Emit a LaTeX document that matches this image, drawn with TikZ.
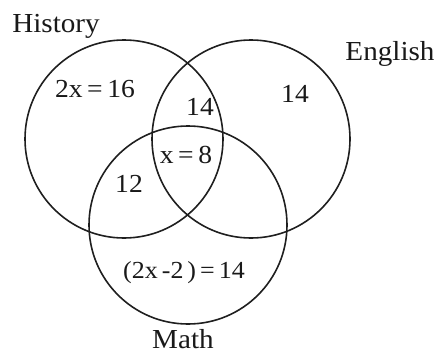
\documentclass[tikz,border=0pt]{standalone}
\usepackage{fontspec}
\setmainfont[FakeStretch=1.06]{Liberation Serif}
\newcommand\vgap{\hspace{4.5pt}}
\newcommand\tgap{\hspace{4pt}}
\tikzset{
  setcircle/.style={draw=black!88, line width=1.6pt, circle, minimum size=198pt, inner sep=0pt},
  lab/.style={anchor=base, inner sep=0pt, font=\fontsize{26}{30}\selectfont, text=black!90},
  title/.style={lab, font=\fontsize{27.5}{32}\selectfont},
}
\begin{document}
\begin{tikzpicture}[x=1pt, y=-1pt]
\useasboundingbox (0,0) rectangle (438,353);
\node[setcircle] (hist) at (124,139) {};
\node[setcircle] (eng) at (251,139) {};
\node[setcircle] (math) at (188,225) {};
\node[title] (thist) at (56,33) {History};
\node[title] (teng) at (390,60) {English};
\node[title] (tmath) at (183,348) {Math};
\node[lab] (honly) at (95,97) {2x\vgap=\vgap16};
\node[lab] (he) at (200,115) {14};
\node[lab] (eonly) at (295,102) {14};
\node[lab] (all) at (186,163) {x\vgap=\vgap8};
\node[lab] (hm) at (129,192) {12};
\node[lab, font=\fontsize{24.5}{30}\selectfont] (monly) at (184,278) {(2x\tgap-2\tgap)\tgap=\tgap14};
\end{tikzpicture}
\end{document}
